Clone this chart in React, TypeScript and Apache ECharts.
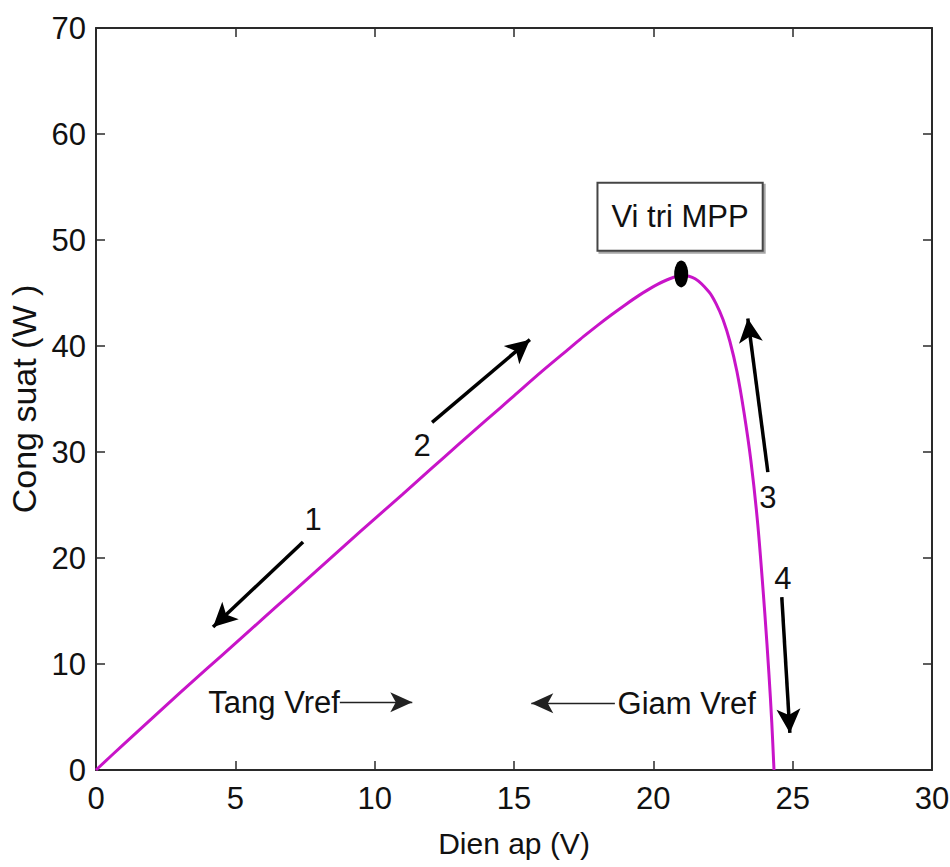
import React, { useEffect, useRef } from "react";
import * as echarts from "echarts";

// P-V curve data (Dien ap V, Cong suat W)
const voltage = [0, 1, 2, 3, 4, 5, 6, 7, 8, 9, 10, 11, 12, 13, 14, 15, 16, 17, 17.5, 18, 18.5, 19, 19.5, 20, 20.5, 21, 21.5, 22, 22.25, 22.5, 22.75, 23, 23.25, 23.5, 23.75, 24, 24.15, 24.25, 24.33];
const power = [0, 2.45, 4.85, 7.25, 9.6, 11.95, 14.3, 16.65, 19.0, 21.35, 23.7, 26.0, 28.35, 30.7, 33.0, 35.3, 37.6, 39.8, 40.9, 41.95, 42.95, 43.9, 44.8, 45.6, 46.25, 46.65, 46.35, 45.1, 44.0, 42.5, 40.4, 37.6, 33.8, 29.2, 23.1, 14.8, 9.0, 4.5, 0];

const mppPoint = [21, 46.8];

// Annotation arrows: [fromV, fromP, toV, toP]
const thickArrows = [
  [7.43, 21.5, 4.2, 13.5],
  [12.06, 32.8, 15.57, 40.6],
  [24.11, 28.1, 23.39, 42.6],
  [24.61, 16.3, 24.9, 3.5],
];
const thinArrows = [
  [8.75, 6.4, 11.35, 6.4],
  [18.62, 6.3, 15.62, 6.3],
];
// Text labels: [V, P, text]
const textLabels: [number, number, string][] = [
  [7.79, 23.6, "1"],
  [11.7, 30.6, "2"],
  [24.11, 25.7, "3"],
  [24.65, 18.1, "4"],
  [6.39, 6.4, "Tang Vref"],
  [21.2, 6.3, "Giam Vref"],
];
const mppLabel: [number, number, string] = [20.96, 52.2, "Vi tri MPP"];

const FONT = "'Liberation Sans', Arial, Helvetica, sans-serif";
const AXC = "#2a2a2a";

export default function App() {
  const ref = useRef<HTMLDivElement>(null);
  useEffect(() => {
    if (!ref.current) return;
    const chart = echarts.init(ref.current, undefined, { renderer: "svg" });
    const axisCommon = {
      min: 0,
      axisLine: { show: true, onZero: false, lineStyle: { color: AXC, width: 2 } },
      axisTick: { show: true, inside: true, length: 9, lineStyle: { color: AXC, width: 1.5 } },
      splitLine: { show: false },
    };
    const curve = voltage.map((v, i) => [v, power[i]]);
    chart.setOption({
      animation: false,
      backgroundColor: "#ffffff",
      grid: { left: 96, right: 18, top: 28, bottom: 97, outerBoundsMode: "none", containLabel: false },
      xAxis: [
        {
          ...axisCommon,
          type: "value",
          max: 30,
          interval: 5,
          position: "bottom",
          name: "Dien ap (V)",
          nameLocation: "middle",
          nameGap: 58,
          nameTextStyle: { fontFamily: FONT, fontSize: 30, color: "#111" },
          axisLabel: { margin: 13, fontFamily: FONT, fontSize: 31, color: "#111" },
        },
        {
          ...axisCommon,
          type: "value",
          max: 30,
          interval: 5,
          position: "top",
          axisLabel: { show: false },
        },
      ],
      yAxis: [
        {
          ...axisCommon,
          type: "value",
          max: 70,
          interval: 10,
          position: "left",
          name: "Cong suat (W )",
          nameLocation: "middle",
          nameGap: 50,
          nameTextStyle: { fontFamily: FONT, fontSize: 34, color: "#111" },
          axisLabel: { margin: 10, fontFamily: FONT, fontSize: 31, color: "#111" },
        },
        {
          ...axisCommon,
          type: "value",
          max: 70,
          interval: 10,
          position: "right",
          axisLabel: { show: false },
        },
      ],
      series: [
        {
          type: "line",
          data: curve,
          smooth: 0.3,
          showSymbol: false,
          symbol: "none",
          lineStyle: { color: "#C814C8", width: 3 },
          markLine: {
            silent: true,
            animation: false,
            label: { show: false },
            data: [
              ...thickArrows.map((a) => [
                { coord: [a[0], a[1]], symbol: "none", lineStyle: { color: "#000", width: 3.5, type: "solid" } },
                { coord: [a[2], a[3]], symbol: "arrow", symbolSize: [18, 24] },
              ]),
              ...thinArrows.map((a) => [
                { coord: [a[0], a[1]], symbol: "none", lineStyle: { color: "#222", width: 1.3, type: "solid" } },
                { coord: [a[2], a[3]], symbol: "arrow", symbolSize: [15, 22] },
              ]),
            ],
          },
        },
        {
          type: "scatter",
          data: [mppPoint],
          symbol: "circle",
          symbolSize: [14, 27],
          itemStyle: { color: "#000", opacity: 1 },
          z: 5,
          markPoint: {
            silent: true,
            animation: false,
            data: [
              ...textLabels.map((t) => ({
                coord: [t[0], t[1]],
                symbol: "rect",
                symbolSize: 1,
                itemStyle: { color: "rgba(0,0,0,0)" },
                label: {
                  show: true,
                  position: "inside",
                  formatter: t[2],
                  fontFamily: FONT,
                  fontSize: 31,
                  color: "#111",
                },
              })),
              {
                coord: [mppLabel[0], mppLabel[1]],
                symbol: "rect",
                symbolSize: 1,
                itemStyle: { color: "rgba(0,0,0,0)" },
                label: {
                  show: true,
                  position: "inside",
                  formatter: mppLabel[2],
                  fontFamily: FONT,
                  fontSize: 31,
                  lineHeight: 38,
                  color: "#111",
                  backgroundColor: "#fff",
                  borderColor: "#444",
                  borderWidth: 2,
                  padding: [14, 13],
                  shadowColor: "rgba(0,0,0,0.35)",
                  shadowOffsetX: 2,
                  shadowOffsetY: 2,
                  shadowBlur: 1,
                },
              },
            ],
          },
        },
      ],
    });
    return () => chart.dispose();
  }, []);
  return (
    <div
      ref={ref}
      style={{ position: "absolute", left: 0, top: 0, width: 950, height: 867, background: "#fff" }}
    />
  );
}
